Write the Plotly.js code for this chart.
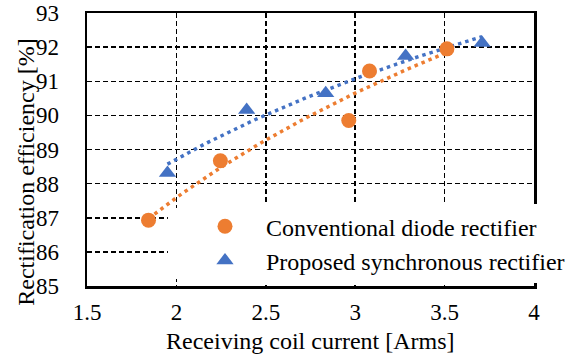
<!DOCTYPE html>
<html>
<head>
<meta charset="utf-8">
<script src="https://cdn.plot.ly/plotly-3.0.1.min.js"></script>
<style>html,body{margin:0;padding:0;background:#fff;}#chart{width:582px;height:362px;}</style>
</head>
<body>
<div id="chart"></div>
<script>
// Data
const conventionalCurrent = [1.844, 2.246, 2.964, 3.080, 3.513];
const conventionalEfficiency = [86.93, 88.67, 89.85, 91.30, 91.95];
const proposedCurrent = [1.950, 2.393, 2.835, 3.282, 3.710];
const proposedEfficiency = [88.31, 90.16, 90.65, 91.74, 92.12];
const seriesNames = ["Conventional diode rectifier", "Proposed synchronous rectifier"];
const xTickValues = [1.5, 2, 2.5, 3, 3.5, 4];
const xTickLabels = ["1.5", "2", "2.5", "3", "3.5", "4"];
const yTickValues = [85, 86, 87, 88, 89, 90, 91, 92, 93];
const yTickLabels = ["85", "86", "87", "88", "89", "90", "91", "92", "93"];

// Logarithmic least-squares trendline (as a spreadsheet trendline does)
function logTrend(xs, ys) {
  const lx = xs.map(Math.log);
  const n = xs.length;
  const mx = lx.reduce((a, b) => a + b, 0) / n;
  const my = ys.reduce((a, b) => a + b, 0) / n;
  let sxy = 0, sxx = 0;
  for (let i = 0; i < n; i++) { sxy += (lx[i] - mx) * (ys[i] - my); sxx += (lx[i] - mx) ** 2; }
  const a = sxy / sxx, b = my - a * mx;
  const x0 = Math.min(...xs), x1 = Math.max(...xs);
  const tx = [], ty = [];
  const steps = 60;
  for (let k = 0; k <= steps; k++) { const x = x0 + (x1 - x0) * k / steps; tx.push(x); ty.push(a * Math.log(x) + b); }
  return {x: tx, y: ty};
}

const ORANGE = "#ED7D31", BLUE = "#4472C4";
const FONT = "Liberation Serif, Times New Roman, serif";
const tc = logTrend(conventionalCurrent, conventionalEfficiency);
const tp = logTrend(proposedCurrent, proposedEfficiency);

const traces = [
  {x: tc.x, y: tc.y, mode: "lines", line: {color: ORANGE, width: 3.5, dash: "3.5px,4px"}, showlegend: false, hoverinfo: "skip"},
  {x: tp.x, y: tp.y, mode: "lines", line: {color: BLUE, width: 3.5, dash: "3.5px,4px"}, showlegend: false, hoverinfo: "skip"},
  {x: conventionalCurrent, y: conventionalEfficiency, mode: "markers", name: seriesNames[0], legendgroup: "a",
   marker: {symbol: "circle", size: 15, color: ORANGE}},
  {x: proposedCurrent, y: proposedEfficiency, mode: "markers", name: seriesNames[1], legendgroup: "b",
   marker: {symbol: "triangle-up", size: 15, color: BLUE}}
];

const layout = {
  width: 582, height: 362,
  margin: {l: 87, r: 43, t: 13, b: 76},
  paper_bgcolor: "#fff", plot_bgcolor: "#fff",
  font: {family: FONT, size: 23, color: "#000"},
  xaxis: {range: [1.5, 4], tickvals: xTickValues, ticktext: xTickLabels, showline: true, mirror: true,
    linecolor: "#000", linewidth: 2.5, showgrid: true, gridcolor: "#000", gridwidth: 1.5, griddash: "5px,3px",
    zeroline: false, ticks: "", ticklabelstandoff: 4, tickfont: {family: FONT, size: 23, color: "#000"}},
  yaxis: {range: [85, 93], tickvals: yTickValues, ticktext: yTickLabels, showline: true, mirror: true,
    linecolor: "#000", linewidth: 2.5, showgrid: true, gridcolor: "#000", gridwidth: 1.5, griddash: "5px,3px",
    zeroline: false, ticks: "", ticklabelstandoff: 21, tickfont: {family: FONT, size: 23, color: "#000"}},
  showlegend: true,
  legend: {x: 0.217, y: 0.30, xanchor: "left", yanchor: "top", bgcolor: "#fff", borderwidth: 0,
    itemwidth: 72, tracegroupgap: 0, font: {family: FONT, size: 24, color: "#000"}},
  shapes: [{type: "rect", xref: "paper", yref: "paper", x0: 0.181, x1: 1.07, y0: 0.0256, y1: 0.2857,
    fillcolor: "#fff", line: {width: 0}, layer: "above"}],
  annotations: [
    {text: "Receiving coil current [Arms]", xref: "paper", yref: "paper", x: 0.5, y: -0.2015,
     xanchor: "center", yanchor: "middle", showarrow: false, font: {family: FONT, size: 24, color: "#000"}},
    {text: "Rectification efficiency [%]", xref: "paper", yref: "paper", x: -0.137, y: 0.4176,
     xanchor: "center", yanchor: "middle", textangle: -90, showarrow: false, font: {family: FONT, size: 24, color: "#000"}}
  ]
};

Plotly.newPlot("chart", traces, layout, {displayModeBar: false, staticPlot: true});
</script>
</body>
</html>
